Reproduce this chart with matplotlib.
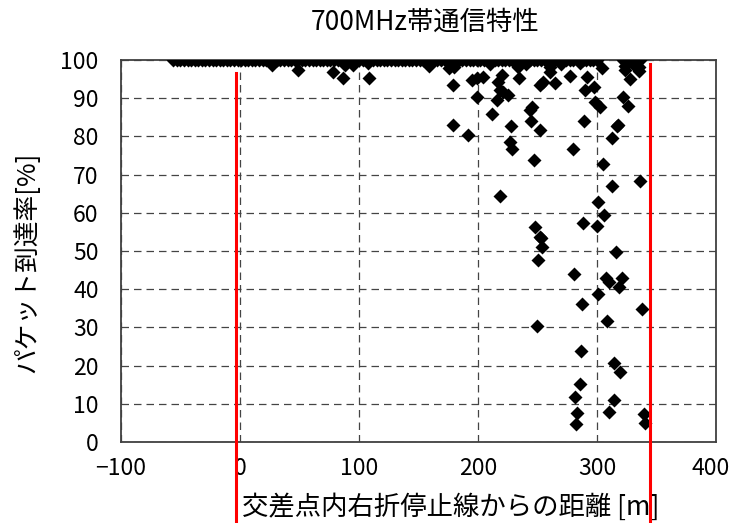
import matplotlib
matplotlib.use('Agg')
import matplotlib.pyplot as plt
import matplotlib.transforms as mtransforms

plt.rcParams['font.family'] = ['Noto Sans CJK JP', 'DejaVu Sans']

# 到達率100%の点 (距離[m])
dist_full = [-56, -53, -50, -47, -44, -41, -38, -35, -32, -29, -26, -23, -20, -17,
             -14, -11, -8, -5, -2, 1, 4, 7, 10, 13, 16, 19, 22, 25, 28, 31, 34, 37,
             40, 43, 46, 49, 52, 55, 58, 61, 64, 67, 70, 73, 76, 79, 82, 85, 88, 91,
             94, 97, 100, 103, 106, 109, 112, 115, 118, 121, 124, 127, 130, 133, 136,
             139, 142, 145, 148, 151, 154, 157, 160, 163, 166, 169, 172, 175, 178,
             181, 184, 187, 190, 193, 196, 199, 202, 205, 208, 211, 214, 217, 220,
             223, 226, 229, 232, 235, 238, 241, 244, 247, 250, 253, 256, 259, 262,
             265, 268, 271, 274, 277, 280, 288, 291, 294, 297, 300, 322, 325, 328,
             331, 334, 336]

# それ以外の点
dist_part = [26.6, 49, 77.9, 86.3, 88, 94.7, 108.7, 108, 159, 176, 179, 179,
             191.9, 198.9, 198.9, 194.7, 204.5, 180, 219.9, 217, 218.5, 220.7, 216.2,
             225.5, 211.5, 227.5, 226.9, 228.3, 234.5, 245.1, 243.7, 244.3, 252.1,
             247, 252, 254.9, 264.7, 260.5, 277.3, 280.1, 289, 289.9, 291.3,
             297.5, 304, 298.3, 302.5, 318, 312.3, 304.8, 322, 325.8, 323.5, 327.7,
             335.6, 336, 233.6, 260.5, 323.5, 335, 210, 240, 270, 286, 330,
             218.5, 247.9, 252.1, 288.5, 299.7, 301.1, 305.9, 312.9, 316.5,
             252.9, 254, 250.1, 316, 280.7, 307.3, 310.4, 321, 318.5, 300.6, 287.1,
             338.1, 308.7, 249.3, 286.3, 314.6, 319.6, 285.5, 281.5, 314, 309.8,
             283.5, 282.4, 339.2, 340]
rate_part = [98.7, 97.4, 96.9, 95.2, 98.7, 98.7, 95.2, 99.1, 98.4, 97.8, 93.5, 83,
             80.4, 95.2, 90.4, 94.8, 95.6, 98.2, 96.1, 94.3, 92.1, 91.7, 89.5,
             90.8, 85.9, 82.7, 78.6, 76.6, 95.2, 87.8, 86.9, 84.1, 81.7,
             73.8, 93.5, 94.3, 94.1, 96.9, 95.8, 76.6, 84.1, 92.1, 95.6,
             93, 97.8, 89.1, 87.8, 83, 79.5, 72.8, 90.2, 88, 97.4, 94.9,
             97.2, 68.2, 98.2, 98.2, 98.5, 98.2, 99, 99, 99, 99.2, 99,
             64.4, 56.2, 53.7, 57.4, 56.6, 62.9, 59.4, 67.1, 82.7,
             53.3, 51.1, 47.6, 49.7, 43.9, 42.8, 42, 42.8, 40.7, 38.7, 36.1,
             34.8, 31.7, 30.4, 23.9, 20.8, 18.4, 15.1, 11.9, 11, 7.9,
             7.6, 4.8, 7.3, 5]

# 赤線 (停止線位置)
stop_lines = [-3.5, 344.5]
stop_tops = [96.6, 99]

xticks = [-100, 0, 100, 200, 300, 400]
yticks = [0, 10, 20, 30, 40, 50, 60, 70, 80, 90, 100]

fig = plt.figure(figsize=(7.33, 5.23), dpi=100)
ax = fig.add_axes([0.165, 0.1549, 0.8117, 0.7304])

ax.plot(dist_full, [100] * len(dist_full), 'D', color='black', ms=7, mec='none', zorder=3)
ax.plot(dist_part, rate_part, 'D', color='black', ms=7, mec='none', zorder=3)

ax.set_xlim(-100, 400)
ax.set_ylim(0, 100)
ax.set_xticks(xticks)
ax.set_yticks(yticks)
ax.tick_params(length=0, labelsize=16.5)
ax.tick_params(axis='y', pad=16)
ax.tick_params(axis='x', pad=11)
ax.grid(True, color='#444444', linestyle=(0, (6, 4)), linewidth=0.9)
for s in ax.spines.values():
    s.set_color('#404040')
    s.set_linewidth(1.3)

# 右端の目盛ラベルが切れないよう少し左へ
lbl = ax.get_xticklabels()[-1]
lbl.set_transform(lbl.get_transform() + mtransforms.ScaledTranslation(-4 / 72, 0, fig.dpi_scale_trans))

for x, top in zip(stop_lines, stop_tops):
    ax.plot([x, x], [top, -22], color='red', lw=2.2, clip_on=False, zorder=5)

ax.set_xlabel('交差点内右折停止線からの距離 [m]', fontsize=19)
ax.xaxis.set_label_coords(0.555, -0.135)
ax.set_ylabel('パケット到達率[%]', fontsize=18.5)
ax.yaxis.set_label_coords(-0.135, 0.47)
fig.text(0.58, 0.958, '700MHz帯通信特性', fontsize=19, ha='center', va='center')

fig.savefig('out.png', dpi=100)
